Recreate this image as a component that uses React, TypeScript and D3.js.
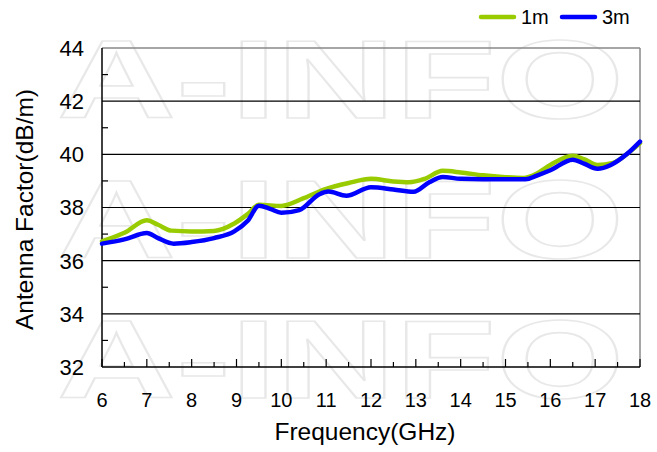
import React from 'react';
import * as d3 from 'd3';

// frequency (GHz) / antenna factor (dB/m)
const freq1m = [6, 6.5, 7, 7.25, 7.55, 8, 8.5, 8.95, 9.25, 9.5, 10, 10.5, 11, 11.5, 12, 12.5, 12.85, 13.2, 13.6, 14, 14.5, 15, 15.4, 15.7, 16, 16.5, 16.75, 17.05, 17.4, 17.7, 18];
const af1m = [36.73, 37.05, 37.52, 37.35, 37.13, 37.1, 37.12, 37.4, 37.75, 38.1, 38.06, 38.35, 38.7, 38.92, 39.08, 38.98, 38.95, 39.08, 39.38, 39.32, 39.21, 39.14, 39.11, 39.28, 39.6, 39.95, 39.82, 39.6, 39.68, 40.0, 40.42];

const freq3m = [6, 6.5, 7, 7.25, 7.6, 8, 8.5, 8.95, 9.25, 9.5, 9.75, 10, 10.4, 10.85, 11.05, 11.45, 12, 12.5, 12.95, 13.3, 13.6, 14, 15, 15.45, 15.7, 16, 16.5, 16.75, 17.05, 17.35, 17.7, 18];
const af3m = [36.64, 36.8, 37.04, 36.85, 36.64, 36.7, 36.85, 37.1, 37.5, 38.07, 37.95, 37.8, 37.9, 38.5, 38.6, 38.44, 38.76, 38.68, 38.59, 38.95, 39.15, 39.08, 39.06, 39.06, 39.2, 39.4, 39.8, 39.65, 39.46, 39.6, 40.0, 40.48];

const xTicks = [6, 7, 8, 9, 10, 11, 12, 13, 14, 15, 16, 17, 18];
const yTicks = [32, 34, 36, 38, 40, 42, 44];

const series = [
  { name: '1m', color: '#99cc00', x: freq1m, y: af1m },
  { name: '3m', color: '#0000ff', x: freq3m, y: af3m },
];

const W = 657;
const H = 452;
const margin = { top: 48, right: 17, bottom: 85, left: 102 };
const font = "'Liberation Sans', Arial, sans-serif";

const App = () => {
  const x = d3.scaleLinear().domain([6, 18]).range([margin.left, W - margin.right]);
  const y = d3.scaleLinear().domain([32, 44]).range([H - margin.bottom, margin.top]);

  const line = d3.line<[number, number]>()
    .x(d => x(d[0]))
    .y(d => y(d[1]))
    .curve(d3.curveMonotoneX);

  const minorY = d3.range(33, 44, 2);
  const minorX = d3.range(6.5, 18, 1);
  const x0 = x(6), x1 = x(18), y0 = y(32), y1 = y(44);

  return (
    <div style={{ position: 'absolute', left: 0, top: 0 }}>
      <svg width={W} height={H} style={{ display: 'block', background: '#fff' }}>
        {/* watermark, stretched wide like the original */}
        {[118, 258, 398].map(b => (
          <g key={b} transform={`translate(57,${b}) scale(1.47,1)`}>
            <text x={0} y={0} fontFamily={font} fontWeight="bold" fontSize={112}
              fill="none" stroke="#e8e8e8" strokeWidth={2} vectorEffect="non-scaling-stroke">A-INFO</text>
          </g>
        ))}

        {/* frame */}
        <line x1={x0} x2={x1} y1={y1} y2={y1} stroke="#888" strokeWidth={1.5} />
        <line x1={x1} x2={x1} y1={y1} y2={y0} stroke="#888" strokeWidth={1.5} />

        {/* grid */}
        {yTicks.filter(t => t > 32 && t < 44).map(t => (
          <line key={t} x1={x0} x2={x1} y1={y(t)} y2={y(t)} stroke="#000" strokeWidth={1.2} />
        ))}

        {/* axes */}
        <line x1={x0} x2={x0} y1={y1} y2={y0} stroke="#000" strokeWidth={1.5} />
        <line x1={x0} x2={x1} y1={y0} y2={y0} stroke="#000" strokeWidth={1.5} />
        {minorY.map(t => (
          <line key={t} x1={x0} x2={x0 + 6} y1={y(t)} y2={y(t)} stroke="#000" strokeWidth={1.2} />
        ))}
        {xTicks.map(t => (
          <line key={t} x1={x(t)} x2={x(t)} y1={y0} y2={y0 - 8} stroke="#000" strokeWidth={1.2} />
        ))}
        {minorX.map(t => (
          <line key={t} x1={x(t)} x2={x(t)} y1={y0} y2={y0 - 5} stroke="#000" strokeWidth={1.2} />
        ))}

        {/* series */}
        {series.map(s => (
          <path key={s.name}
            d={line(s.x.map((v, i) => [v, s.y[i]] as [number, number])) || ''}
            fill="none" stroke={s.color} strokeWidth={4.5}
            strokeLinejoin="round" strokeLinecap="round" />
        ))}

        {/* tick labels */}
        {yTicks.map(t => (
          <text key={t} x={84} y={y(t)} dy="0.36em" textAnchor="end"
            fontFamily={font} fontSize={22} fill="#000">{t}</text>
        ))}
        {xTicks.map(t => (
          <text key={t} x={x(t)} y={407} textAnchor="middle"
            fontFamily={font} fontSize={20} fill="#000">{t}</text>
        ))}

        {/* axis titles */}
        <text x={365} y={440} textAnchor="middle" fontFamily={font} fontSize={24.5} fill="#000">
          Frequency(GHz)
        </text>
        <text transform={`translate(33,${(y0 + y1) / 2 + 2}) rotate(-90)`} textAnchor="middle"
          fontFamily={font} fontSize={24.5} fill="#000">
          Antenna Factor(dB/m)
        </text>

        {/* legend */}
        {series.map((s, i) => (
          <g key={s.name} transform={`translate(${481 + i * 81},17)`}>
            <line x1={0} x2={33} y1={0} y2={0} stroke={s.color} strokeWidth={4.5} strokeLinecap="round" />
            <text x={40} y={0} dy="0.36em" fontFamily={font} fontSize={20} fill="#000">{s.name}</text>
          </g>
        ))}
      </svg>
    </div>
  );
};

export default App;
